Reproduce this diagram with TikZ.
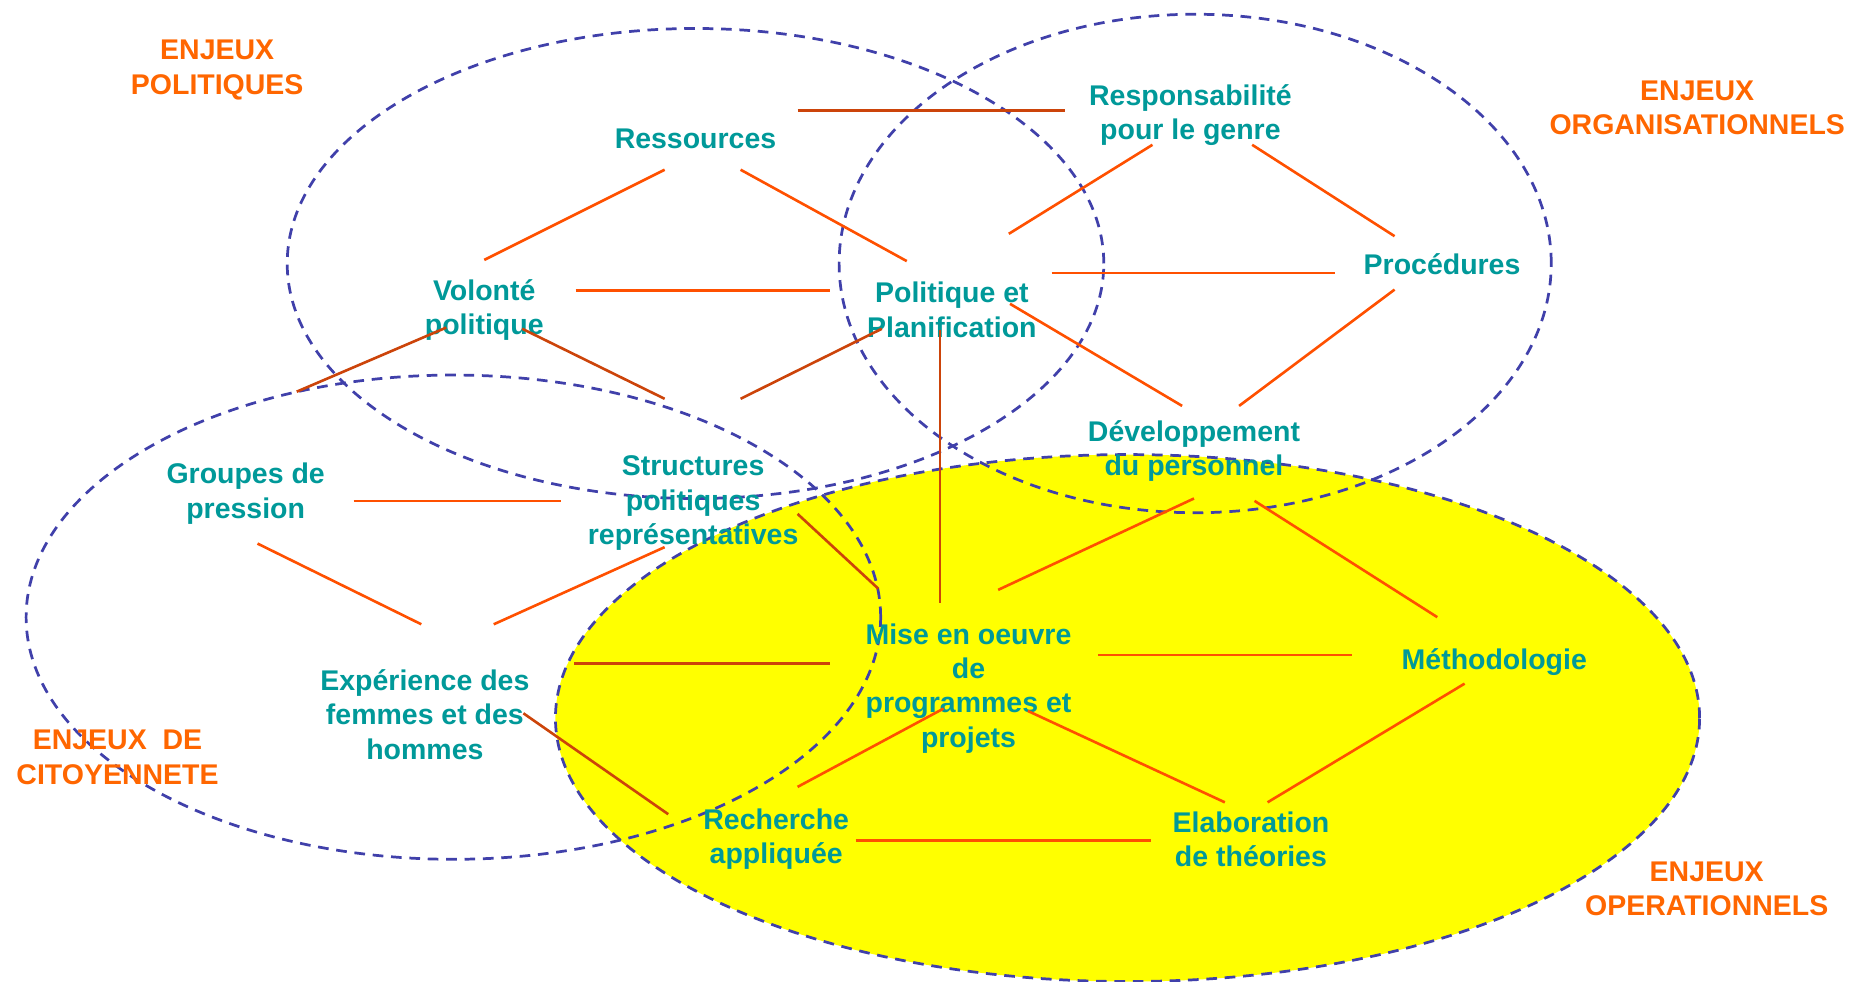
\documentclass[tikz,border=0pt]{standalone}
\usepackage{fontspec}
\setmainfont{Liberation Sans}
\definecolor{teal1}{RGB}{0,153,153}
\definecolor{orlab}{RGB}{255,102,0}
\definecolor{lnA}{RGB}{255,80,0}
\definecolor{lnB}{RGB}{204,68,10}
\definecolor{dashc}{RGB}{64,64,170}
\definecolor{yel}{RGB}{255,255,0}
\begin{document}
\begin{tikzpicture}[x=1pt,y=-1pt,
  lbl/.style={font=\fontsize{24}{29}\selectfont\bfseries,text=teal1,align=center,inner sep=0pt},
  enj/.style={font=\fontsize{24}{29}\selectfont\bfseries,text=orlab,align=center,inner sep=0pt},
  ell/.style={draw=dashc,line width=2.3pt,dash pattern=on 9pt off 6.5pt},
  lka/.style={draw=lnA,line width=2.2pt},
  lkb/.style={draw=lnB,line width=2.2pt}]
\useasboundingbox (0,0) rectangle (1568,827);
% ellipses
\path[ell,fill=yel] (950,605) ellipse [x radius=482pt, y radius=222pt];
\path[ell] (586,222) ellipse [x radius=344pt, y radius=198pt];
\path[ell] (1007,222) ellipse [x radius=300pt, y radius=210pt];
\path[ell] (382,520) ellipse [x radius=360pt, y radius=204pt];
% labels
\node[enj] (ep) at (183,59) {ENJEUX\\POLITIQUES};
\node[enj] (eo) at (1430,91) {ENJEUX\\ORGANISATIONNELS};
\node[enj] (ec) at (99,638) {ENJEUX\ \ DE\\CITOYENNETE};
\node[enj] (eop) at (1438,749) {ENJEUX\\OPERATIONNELS};
% nodes
\node[lbl] (res) at (586,117) {Ressources};
\node[lbl] (resp) at (1003,97) {Responsabilité\\pour le genre};
\node[lbl] (vol) at (408,261) {Volonté\\politique};
\node[lbl] (pol) at (802,261) {Politique et\\Planification};
\node[lbl] (proc) at (1215,223) {Procédures};
\node[lbl] (dev) at (1006,380) {Développement\\du personnel};
\node[lbl] (grp) at (207,416) {Groupes de\\pression};
\node[lbl] (str) at (584,424) {Structures\\politiques\\représentatives};
\node[lbl] (mise) at (816,580) {Mise en oeuvre\\de\\programmes et\\projets};
\node[lbl] (meth) at (1259,558) {Méthodologie};
\node[lbl] (exp) at (358,602) {Expérience des\\femmes et des\\hommes};
\node[lbl] (rech) at (654,707) {Recherche\\appliquée};
\node[lbl] (elab) at (1054,707) {Elaboration\\de théories};
% connector end points
\coordinate (a1) at (672,93);  \coordinate (b1) at (897,93);
\coordinate (a2) at (560,143); \coordinate (b2) at (408,219);
\coordinate (a3) at (624,143); \coordinate (b3) at (764,220);
\coordinate (a4) at (485,245); \coordinate (b4) at (699,245);
\coordinate (a5) at (971,122); \coordinate (b5) at (850,197);
\coordinate (a6) at (1055,122); \coordinate (b6) at (1175,199);
\coordinate (a7) at (886,230); \coordinate (b7) at (1125,230);
\coordinate (a8) at (1175,244); \coordinate (b8) at (1044,342);
\coordinate (a9) at (851,256); \coordinate (b9) at (996,342);
\coordinate (a10) at (376,276); \coordinate (b10) at (250,330);
\coordinate (a11) at (440,277); \coordinate (b11) at (560,336);
\coordinate (a12) at (743,277); \coordinate (b12) at (624,336);
\coordinate (a13) at (792,278); \coordinate (b13) at (792,508);
\coordinate (a14) at (298,422); \coordinate (b14) at (473,422);
\coordinate (a15) at (217,458); \coordinate (b15) at (355,526);
\coordinate (a16) at (560,461); \coordinate (b16) at (416,526);
\coordinate (a17) at (672,433); \coordinate (b17) at (740,496);
\coordinate (a18) at (1006,420); \coordinate (b18) at (841,497);
\coordinate (a19) at (1057,422); \coordinate (b19) at (1211,520);
\coordinate (a20) at (925,552); \coordinate (b20) at (1139,552);
\coordinate (a21) at (484,559); \coordinate (b21) at (699,559);
\coordinate (a22) at (441,601); \coordinate (b22) at (563,686);
\coordinate (a23) at (795,597); \coordinate (b23) at (672,663);
\coordinate (a24) at (866,599); \coordinate (b24) at (1032,676);
\coordinate (a25) at (1234,576); \coordinate (b25) at (1068,676);
\coordinate (a26) at (721,708); \coordinate (b26) at (970,708);
% connectors
\draw[lkb] (a1) -- (b1);
\draw[lka] (a2) -- (b2);
\draw[lka] (a3) -- (b3);
\draw[lka] (a4) -- (b4);
\draw[lka] (a5) -- (b5);
\draw[lka] (a6) -- (b6);
\draw[lka] (a7) -- (b7);
\draw[lka] (a8) -- (b8);
\draw[lka] (a9) -- (b9);
\draw[lkb] (a10) -- (b10);
\draw[lkb] (a11) -- (b11);
\draw[lkb] (a12) -- (b12);
\draw[lkb] (a13) -- (b13);
\draw[lka] (a14) -- (b14);
\draw[lka] (a15) -- (b15);
\draw[lka] (a16) -- (b16);
\draw[lkb] (a17) -- (b17);
\draw[lka] (a18) -- (b18);
\draw[lka] (a19) -- (b19);
\draw[lka] (a20) -- (b20);
\draw[lkb] (a21) -- (b21);
\draw[lkb] (a22) -- (b22);
\draw[lka] (a23) -- (b23);
\draw[lka] (a24) -- (b24);
\draw[lka] (a25) -- (b25);
\draw[lka] (a26) -- (b26);
\end{tikzpicture}
\end{document}
